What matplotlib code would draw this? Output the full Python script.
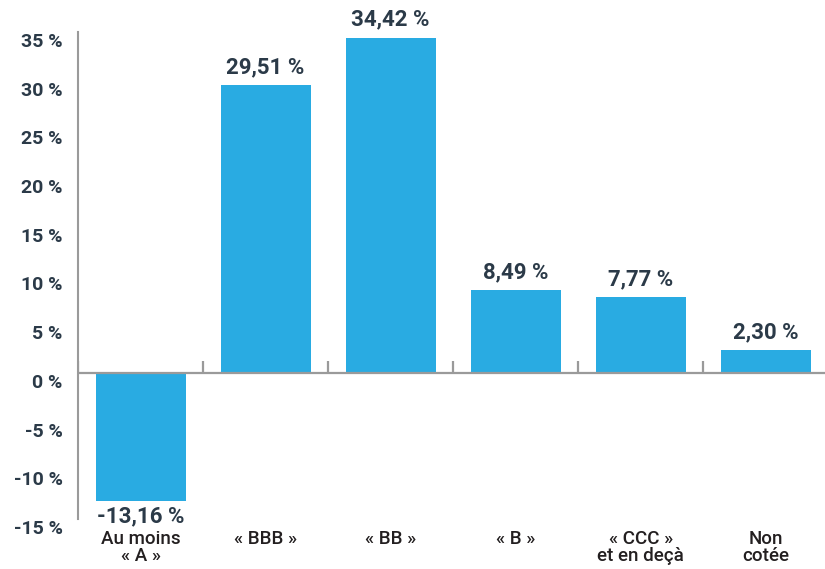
import matplotlib
matplotlib.use("Agg")
import matplotlib.pyplot as plt
import matplotlib.transforms as mtransforms

categories = ["Au moins\n« A »", "« BBB »", "« BB »", "« B »", "« CCC »\net en deçà", "Non\ncotée"]
values = [-13.16, 29.51, 34.42, 8.49, 7.77, 2.30]
value_labels = ["-13,16 %", "29,51 %", "34,42 %", "8,49 %", "7,77 %", "2,30 %"]
yticks = [-15, -10, -5, 0, 5, 10, 15, 20, 25, 30, 35]
ytick_labels = ["-15 %", "-10 %", "-5 %", "0 %", "5 %", "10 %", "15 %", "20 %", "25 %", "30 %", "35 %"]

BAR = "#29ABE2"
TXT = "#2B3A48"
CAT = "#231F20"
GRAY = "#9A9A9A"
FONT = "Roboto"

fig = plt.figure(figsize=(8.25, 5.69), dpi=100)
ax = fig.add_axes([78/825, 1-519/569, 1-78/825, (519-32)/569])

x = list(range(len(values)))
ax.bar(x, values, width=0.72, color=BAR, zorder=2)
ax.set_xlim(-0.5, -0.5 + (825-78.3)/125)
ax.set_ylim(-15, 35)

for s in ["top", "right", "bottom"]:
    ax.spines[s].set_visible(False)
ax.spines["left"].set_color(GRAY)
ax.spines["left"].set_linewidth(1.5)

# zero line and category separators
ax.axhline(0, color=GRAY, lw=1.6, zorder=3)
for b in [i + 0.5 for i in range(len(values) - 1)] + [-0.5]:
    ax.plot([b, b], [0, 1.2], color=GRAY, lw=1.6, zorder=3, solid_capstyle="butt")

ax.set_xticks([])
ax.set_yticks(yticks)
ax.set_yticklabels(ytick_labels, fontsize=14, fontweight="bold", color=TXT, family=FONT)
ax.tick_params(axis="y", length=0, pad=11)
off = mtransforms.ScaledTranslation(0, -8/100, fig.dpi_scale_trans)
for lab in ax.get_yticklabels():
    lab.set_transform(lab.get_transform() + off)

for xi, v, lab in zip(x, values, value_labels):
    if v >= 0:
        ax.annotate(lab, (xi, v), xytext=(0, 5), textcoords="offset points",
                    ha="center", va="bottom", fontsize=16, fontweight="bold",
                    color=TXT, family=FONT)
    else:
        ax.annotate(lab, (xi, v), xytext=(0, -3), textcoords="offset points",
                    ha="center", va="top", fontsize=16, fontweight="bold",
                    color=TXT, family=FONT)

for xi, c in zip(x, categories):
    t = ax.text(xi, -15, c, ha="center", va="top",
                fontsize=13.5, color=CAT, family=FONT, linespacing=0.92,
                fontweight="medium")
    t.set_transform(ax.transData + mtransforms.ScaledTranslation(0, -11/100, fig.dpi_scale_trans))

fig.savefig("out.png", dpi=100)
